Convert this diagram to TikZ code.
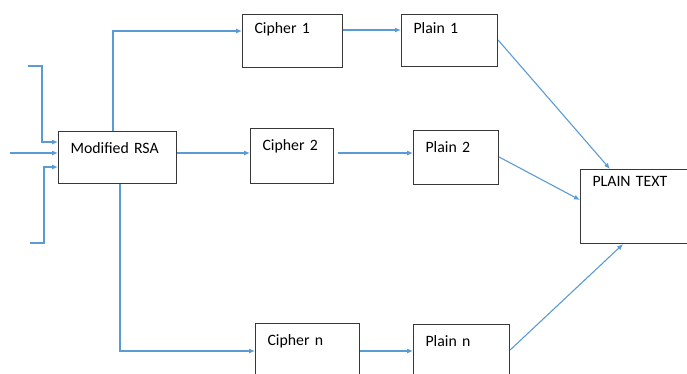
\documentclass[tikz,border=0pt]{standalone}
\usepackage{fontspec}
\setmainfont{Carlito}
\usetikzlibrary{calc}
\usetikzlibrary{arrows.meta}
\definecolor{link}{RGB}{91,155,213}
\definecolor{frame}{RGB}{56,56,56}

\tikzset{
    blk/.style={draw=frame, line width=1.1pt, rectangle, anchor=north west,
                inner xsep=12pt, inner ysep=0pt, align=left,
                font=\fontsize{15.8}{18}\selectfont},
    link/.style={draw=link, line width=1.1pt, -{Latex[length=6pt,width=5pt]}},
}

\begin{document}
\begin{tikzpicture}[x=1pt, y=-1pt]
    \clip (0,0) rectangle (687,373);

    % Encryption
    \node[blk, text width=94pt, text height=22pt, text depth=30pt] (mrsa) at (58,131) {Modified RSA};

    % Ciphers
    \node[blk, text width=76pt, text height=19pt, text depth=34pt] (c1) at (242,14) {Cipher 1};
    \node[blk, text width=59pt, text height=22pt, text depth=33pt] (c2) at (250,128) {Cipher 2};
    \node[blk, text width=80pt, text height=22pt, text depth=38pt] (cn) at (255,323) {Cipher n};

    % Decrypted parts
    \node[blk, text width=72pt, text height=19pt, text depth=33pt] (p1) at (401,14) {Plain 1};
    \node[blk, text width=61pt, text height=22pt, text depth=32pt] (p2) at (413,130) {Plain 2};
    \node[blk, text width=72pt, text height=22pt, text depth=38pt] (pn) at (413,324) {Plain n};

    % Output
    \node[blk, text width=96pt, text height=17pt, text depth=57pt] (pt) at (580,169) {PLAIN TEXT};

    % Inputs
    \coordinate (inA) at (28,66);
    \coordinate (inB) at (10,153);
    \coordinate (inC) at (30,243);
    \draw[link] (inA) -- ++(14,0) |- ($(mrsa.north west)+(0,11)$);
    \draw[link] (inB) -- ($(mrsa.north west)+(0,22)$);
    \draw[link] (inC) -- ++(14,0) |- ($(mrsa.north west)+(0,36)$);

    % Split into ciphers
    \draw[link] ($(mrsa.north west)+(55,0)$) |- ($(c1.north west)+(0,17)$);
    \draw[link] ($(mrsa.north east)+(0,22)$) -- ($(c2.north west)+(0,25)$);
    \draw[link] ($(mrsa.south west)+(62,0)$) |- ($(cn.north west)+(0,28)$);

    % Decrypt
    \draw[link, line width=2pt] ($(c1.north east)+(0,16)$) -- ($(p1.north west)+(0,16)$);
    \draw[link] ($(c2.north east)+(4,25)$) -- ($(p2.north west)+(0,23)$);
    \draw[link] ($(cn.north east)+(0,28)$) -- ($(pn.north west)+(0,27)$);

    % Merge
    \draw[link] ($(p1.north east)+(0,26)$) -- ($(pt.north west)+(30,0)$);
    \draw[link] ($(p2.north east)+(0,27)$) -- ($(pt.north west)+(0,31)$);
    \draw[link] ($(pn.north east)+(0,26)$) -- ($(pt.south west)+(43,0)$);
\end{tikzpicture}
\end{document}
